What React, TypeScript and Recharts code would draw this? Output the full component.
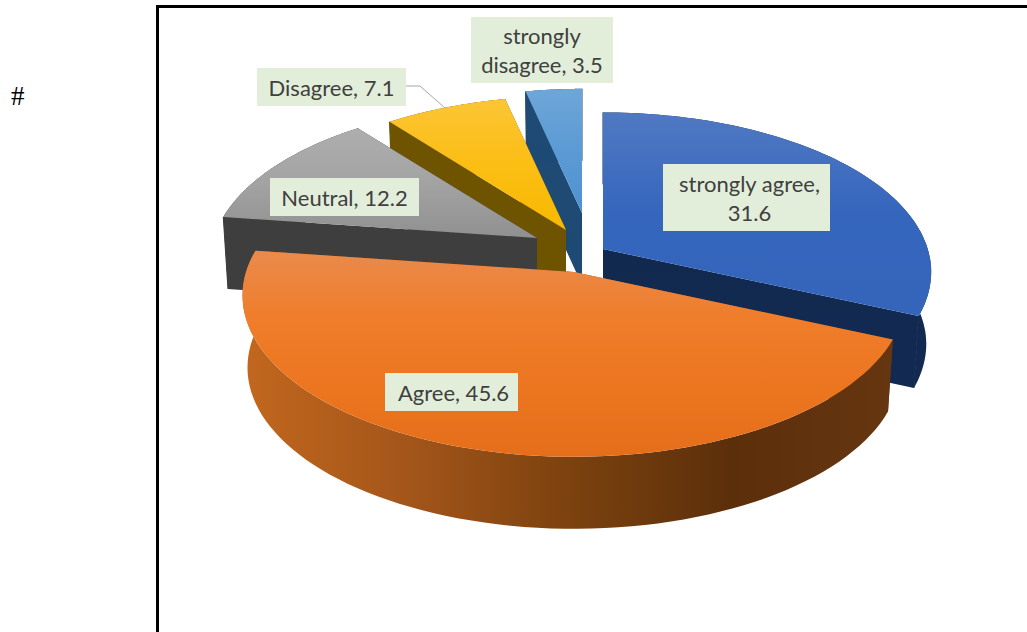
import React from "react";
import { PieChart, Pie } from "recharts";

// Survey responses, in the order the slices run clockwise from twelve o'clock.
const categories = ["strongly agree", "Agree", "Neutral", "Disagree", "strongly disagree"];
const shares = [31.6, 45.6, 12.2, 7.1, 3.5];
const rows = categories.map((name, i) => ({ name, value: shares[i] }));

// Back slices are painted first so the front wedge overlaps their walls.
const paintOrder = ["strongly disagree", "Disagree", "Neutral", "strongly agree", "Agree"];

const W = 1027;
const H = 632;
const CX = 575;
const CY = 240;
const RADIUS = 328;
const SQUASH = 158 / 328; // vertical foreshortening of the tilted disc
const PERSPECTIVE = 0.145; // near edge looks larger than the far edge
const DEPTH = 72; // height of the disc walls
const TAPER = 0.985; // the underside sits slightly further away

interface SliceStyle {
  dx: number;
  dy: number;
  reach: number;
  top: string[];
  wall: string[];
  wallAcross?: boolean;
}

const sliceStyles: Record<string, SliceStyle> = {
  "strongly agree": { dx: 28, dy: 9, reach: 0.99, top: ["#5079c2", "#3566bd", "#3465bb"], wall: ["#12294f", "#122a52"] },
  Agree: {
    dx: -1,
    dy: 32,
    reach: 1,
    top: ["#ea8a4c", "#ef7d2a", "#ec7520", "#e56e1a"],
    wall: ["#c2671e", "#a4561a", "#7c420f", "#5c2f0b", "#653610"],
    wallAcross: true,
  },
  Neutral: { dx: -38, dy: -2, reach: 0.985, top: ["#aeaeae", "#a3a3a3", "#909090"], wall: ["#3e3e3e", "#3e3e3e"] },
  Disagree: { dx: -9, dy: -10, reach: 0.97, top: ["#fcc535", "#fbbe14", "#f8b900"], wall: ["#6e5300", "#6e5400"] },
  "strongly disagree": { dx: 7, dy: -27, reach: 0.9, top: ["#6ea6d8", "#5b9ad4", "#4f92d2"], wall: ["#1f4a73", "#1d4a74"] },
};

interface LabelBox {
  x: number;
  y: number;
  width: number;
  height: number;
  textShift?: number;
  breakAfter?: string;
  leader?: [number, number][];
}

const labelBoxes: Record<string, LabelBox> = {
  "strongly agree": { x: 663, y: 164, width: 167, height: 67, textShift: 3, breakAfter: "," },
  Agree: { x: 385, y: 373, width: 133, height: 38, textShift: 2 },
  Neutral: { x: 270, y: 178, width: 149, height: 38 },
  Disagree: {
    x: 257,
    y: 68,
    width: 149,
    height: 38,
    leader: [
      [406, 86],
      [420, 86],
      [445, 108],
    ],
  },
  "strongly disagree": { x: 471, y: 17, width: 142, height: 66, breakAfter: "strongly" },
};

const toPath = (points: [number, number][]) =>
  points.map((p, i) => `${i ? "L" : "M"}${p[0].toFixed(1)} ${p[1].toFixed(1)}`).join(" ") + " Z";

function TiltedSlice(props: any) {
  const { cx, cy, outerRadius, startAngle, endAngle, name, only } = props;
  const sliceName = name ?? props.payload?.name;
  if (sliceName !== only) return null;
  const style = sliceStyles[sliceName];
  const ox = cx + style.dx;
  const oy = cy + style.dy;

  // Place a rim point given Recharts' polar angle (counter-clockwise from east).
  const rim = (angle: number, lower: boolean): [number, number] => {
    const a = ((90 - angle) * Math.PI) / 180;
    const u = Math.sin(a);
    const v = -Math.cos(a);
    const s = style.reach / (1 - PERSPECTIVE * v);
    return [
      ox + outerRadius * u * s * (lower ? TAPER : 1),
      oy + outerRadius * SQUASH * v * s + (lower ? DEPTH : 0),
    ];
  };

  const steps = 80;
  const arc = (lower: boolean) =>
    Array.from({ length: steps + 1 }, (_, i) =>
      rim(startAngle + ((endAngle - startAngle) * i) / steps, lower),
    );
  const upper = arc(false);
  const under = arc(true);
  const apex: [number, number] = [ox, oy];
  const apexLow: [number, number] = [ox, oy + DEPTH];
  const id = sliceName.replace(/\s/g, "-");
  const wallId = `wall-${id}`;
  const wallPaint = `url(#${wallId})`;

  const stops = (colors: string[]) =>
    colors.map((c, i) => <stop key={i} offset={i / (colors.length - 1)} stopColor={c} />);

  return (
    <g>
      <defs>
        <linearGradient id={`top-${id}`} x1="0" y1="0" x2="0" y2="1">
          {stops(style.top)}
        </linearGradient>
        <linearGradient
          id={wallId}
          x1="0"
          y1="0"
          x2={style.wallAcross ? "1" : "0"}
          y2={style.wallAcross ? "0" : "1"}
        >
          {stops(style.wall)}
        </linearGradient>
      </defs>
      <path d={toPath([apex, upper[0], under[0], apexLow])} fill={wallPaint} />
      <path d={toPath([apex, upper[steps], under[steps], apexLow])} fill={wallPaint} />
      <path d={toPath([...upper, ...[...under].reverse()])} fill={wallPaint} />
      {/* single-colour walls get a hairline over the corner seams */}
      {!style.wallAcross &&
        [0, steps].map((k) => (
          <line
            key={k}
            x1={upper[k][0]}
            y1={upper[k][1]}
            x2={under[k][0]}
            y2={under[k][1]}
            stroke={style.wall[1]}
            strokeWidth={1}
          />
        ))}
      <path d={toPath([apex, ...upper])} fill={`url(#top-${id})`} />
    </g>
  );
}

function SliceLabel(props: any) {
  const name = props.name ?? props.payload?.name;
  const value = props.value ?? props.payload?.value;
  const box = labelBoxes[name];
  const full = `${name}, ${value}`;
  let lines = [full];
  if (box.breakAfter) {
    const cut = full.indexOf(box.breakAfter) + box.breakAfter.length;
    lines = [full.slice(0, cut), full.slice(cut).trim()];
  }
  const lineHeight = 29;
  const midY = box.y + box.height / 2;
  return (
    <g>
      {box.leader && (
        <polyline
          points={box.leader.map((p) => p.join(",")).join(" ")}
          fill="none"
          stroke="#a6a6a6"
          strokeWidth={1}
        />
      )}
      <rect x={box.x} y={box.y} width={box.width} height={box.height} fill="#e2eeda" />
      {lines.map((line, i) => (
        <text
          key={i}
          x={box.x + box.width / 2 + (box.textShift ?? 0)}
          y={midY + (i - (lines.length - 1) / 2) * lineHeight}
          textAnchor="middle"
          dominantBaseline="central"
          fontFamily="Lato, 'Open Sans', sans-serif"
          fontSize={22}
          fill="#404040"
        >
          {line}
        </text>
      ))}
    </g>
  );
}

export default function App() {
  return (
    <div style={{ position: "fixed", left: 0, top: 0, width: W, height: H, background: "#fff", overflow: "hidden" }}>
      <div
        style={{
          position: "absolute",
          left: 156,
          top: 5,
          width: W,
          height: H,
          borderLeft: "3px solid #000",
          borderTop: "3px solid #000",
        }}
      />
      <div
        style={{
          position: "absolute",
          left: 11,
          top: 81,
          fontFamily: "'Liberation Serif', serif",
          fontSize: 27,
          lineHeight: "30px",
          color: "#000",
        }}
      >
        #
      </div>
      <div style={{ position: "absolute", left: 0, top: 0 }}>
        <PieChart width={W} height={H} margin={{ top: 0, right: 0, bottom: 0, left: 0 }}>
          {paintOrder.map((only, i) => (
            <Pie
              key={only}
              data={rows}
              dataKey="value"
              nameKey="name"
              cx={CX}
              cy={CY}
              innerRadius={0}
              outerRadius={RADIUS}
              startAngle={90}
              endAngle={-270}
              stroke="none"
              isAnimationActive={false}
              rootTabIndex={-1}
              labelLine={false}
              label={i === paintOrder.length - 1 ? SliceLabel : false}
              shape={(p: any) => <TiltedSlice {...p} only={only} />}
              inactiveShape={(p: any) => <TiltedSlice {...p} only={only} />}
              activeShape={(p: any) => <TiltedSlice {...p} only={only} />}
            />
          ))}
        </PieChart>
      </div>
    </div>
  );
}
